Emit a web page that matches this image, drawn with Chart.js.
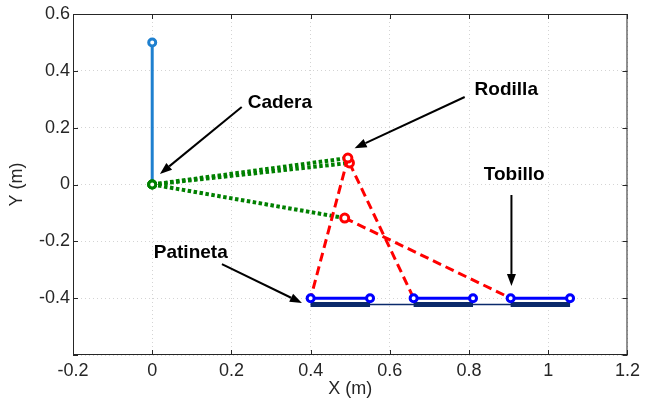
<!DOCTYPE html>
<html>
<head>
<meta charset="utf-8">
<script src="https://cdn.jsdelivr.net/npm/chart.js@4.4.1/dist/chart.umd.min.js"></script>
<style>
  html, body { margin: 0; padding: 0; background: #fff; }
</style>
</head>
<body>
<canvas id="grafico" width="645" height="398"></canvas>
<script>
// axis ticks
const xTicks = [-0.2, 0, 0.2, 0.4, 0.6, 0.8, 1, 1.2];
const yTicks = [-0.6, -0.4, -0.2, 0, 0.2, 0.4, 0.6];
const yTickLabels = ['', '-0.4', '-0.2', '0', '0.2', '0.4', '0.6'];

// body points (m)
const hip = [0, 0];
const torsoTop = [0, 0.5];
const kneesX = [0.494, 0.498, 0.486];
const kneesY = [0.093, 0.076, -0.118];
const anklesX = [0.40, 0.66, 0.905];
const ankleY = -0.40;
const skateEndX = [0.55, 0.81, 1.055];
const boardY = -0.422;

// annotations
const noteLabels = ['Cadera', 'Rodilla', 'Tobillo', 'Patineta'];
const noteTextX = [0.241, 0.814, 0.837, 0.004];
const noteTextY = [0.287, 0.333, 0.033, -0.241];
const arrowFromX = [0.226, 0.789, 0.907, 0.176];
const arrowFromY = [0.273, 0.308, -0.037, -0.280];
const arrowToX = [0.0195, 0.511, 0.907, 0.378];
const arrowToY = [0.037, 0.128, -0.357, -0.417];

const seg = (x1, y1, x2, y2) => [{x: x1, y: y1}, {x: x2, y: y2}];

const datasets = [];

// torso
datasets.push({
    data: seg(hip[0], hip[1], torsoTop[0], torsoTop[1]),
    borderColor: '#1f80cf', backgroundColor: '#fff',
    borderWidth: 3, pointRadius: [0, 3.5], pointBorderWidth: 3,
    pointBorderColor: '#1f80cf', order: 45
});
// thighs
kneesX.forEach((kx, i) => datasets.push({
    data: seg(hip[0], hip[1], kx, kneesY[i]),
    borderColor: '#008000', backgroundColor: '#fff',
    borderWidth: 4, borderDash: [3.5, 2.5], borderCapStyle: 'butt',
    pointRadius: [3.5, 0], pointBorderWidth: 3, pointBorderColor: '#008000',
    order: 40
}));
// shins
kneesX.forEach((kx, i) => datasets.push({
    data: seg(kx, kneesY[i], anklesX[i], ankleY),
    borderColor: '#ff0000', backgroundColor: '#fff',
    borderWidth: 3, borderDash: [9, 5],
    pointRadius: [4, 0], pointBorderWidth: 3, pointBorderColor: '#ff0000',
    order: 30
}));
// skates
anklesX.forEach((ax, i) => datasets.push({
    data: seg(ax, ankleY, skateEndX[i], ankleY),
    borderColor: '#0000ff', backgroundColor: '#fff',
    borderWidth: 3, pointRadius: 3.5, pointBorderWidth: 3, pointBorderColor: '#0000ff',
    order: 20
}));
// board
anklesX.forEach((ax, i) => datasets.push({
    data: seg(ax, boardY, skateEndX[i], boardY),
    borderColor: '#0b2a6b', borderWidth: 5, borderCapStyle: 'butt',
    pointRadius: 0, order: 60
}));
datasets.push({
    data: seg(anklesX[0], boardY, skateEndX[2], boardY),
    borderColor: '#0b2a6b', borderWidth: 1.5, pointRadius: 0, order: 61
});

const frameAndNotes = {
    id: 'frameAndNotes',
    afterDatasetsDraw(chart) {
        const {ctx, chartArea: a, scales: {x, y}} = chart;
        ctx.save();
        ctx.strokeStyle = '#262626';
        ctx.lineWidth = 1;
        ctx.strokeRect(a.left + 0.5, a.top + 0.5, a.right - a.left - 1, a.bottom - a.top - 1);
        ctx.beginPath();
        xTicks.forEach(v => {
            const px = Math.round(x.getPixelForValue(v)) + 0.5;
            ctx.moveTo(px, a.bottom); ctx.lineTo(px, a.bottom - 5);
            ctx.moveTo(px, a.top); ctx.lineTo(px, a.top + 5);
        });
        yTicks.forEach(v => {
            const py = Math.round(y.getPixelForValue(v)) + 0.5;
            ctx.moveTo(a.left, py); ctx.lineTo(a.left + 5, py);
            ctx.moveTo(a.right, py); ctx.lineTo(a.right - 5, py);
        });
        ctx.stroke();

        // arrows + labels
        ctx.strokeStyle = '#000';
        ctx.fillStyle = '#000';
        ctx.lineWidth = 2;
        noteLabels.forEach((txt, i) => {
            const x1 = x.getPixelForValue(arrowFromX[i]), y1 = y.getPixelForValue(arrowFromY[i]);
            const x2 = x.getPixelForValue(arrowToX[i]), y2 = y.getPixelForValue(arrowToY[i]);
            const ang = Math.atan2(y2 - y1, x2 - x1);
            const hl = 12, hw = 4.5;
            const bx = x2 - hl * Math.cos(ang), by = y2 - hl * Math.sin(ang);
            ctx.beginPath();
            ctx.moveTo(x1, y1);
            ctx.lineTo(bx, by);
            ctx.stroke();
            ctx.beginPath();
            ctx.moveTo(x2, y2);
            ctx.lineTo(bx + hw * Math.sin(ang), by - hw * Math.cos(ang));
            ctx.lineTo(bx - hw * Math.sin(ang), by + hw * Math.cos(ang));
            ctx.closePath();
            ctx.fill();

            ctx.font = 'bold 19px "Liberation Sans", Arial, sans-serif';
            ctx.textAlign = 'left';
            ctx.textBaseline = 'middle';
            ctx.fillText(txt, x.getPixelForValue(noteTextX[i]), y.getPixelForValue(noteTextY[i]));
        });
        ctx.restore();
    }
};

const tickFont = {family: '"Liberation Sans", Arial, sans-serif', size: 18};

new Chart(document.getElementById('grafico').getContext('2d'), {
    type: 'scatter',
    data: {datasets},
    options: {
        responsive: false,
        animation: false,
        events: [],
        layout: {padding: {top: 14, right: 17, left: 0, bottom: 0}},
        datasets: {scatter: {showLine: true}},
        plugins: {legend: {display: false}, tooltip: {enabled: false}},
        scales: {
            x: {
                type: 'linear', min: -0.2, max: 1.2,
                afterBuildTicks: s => { s.ticks = xTicks.map(v => ({value: v})); },
                afterFit: s => { s.height = 43; },
                grid: {color: '#d4d4d4', lineWidth: 1, drawTicks: false},
                border: {display: false, dash: [1, 3]},
                ticks: {padding: 5, color: '#262626', font: tickFont, maxRotation: 0, autoSkip: false,
                        callback: v => String(v)},
                title: {display: true, text: 'X (m)', color: '#262626',
                        font: {family: tickFont.family, size: 18, lineHeight: 1.05}, padding: 0}
            },
            y: {
                type: 'linear', min: -0.6, max: 0.6,
                afterBuildTicks: s => { s.ticks = yTicks.map(v => ({value: v})); },
                afterFit: s => { s.width = 73; },
                grid: {color: '#d4d4d4', lineWidth: 1, drawTicks: false},
                border: {display: false, dash: [1, 3]},
                ticks: {padding: 3, color: '#262626', font: tickFont, autoSkip: false,
                        callback: (v, i) => yTickLabels[i]},
                title: {display: true, text: 'Y (m)', color: '#262626', font: {family: tickFont.family, size: 18}, padding: {top: 6, bottom: 0}}
            }
        }
    },
    plugins: [frameAndNotes]
});
</script>
</body>
</html>
